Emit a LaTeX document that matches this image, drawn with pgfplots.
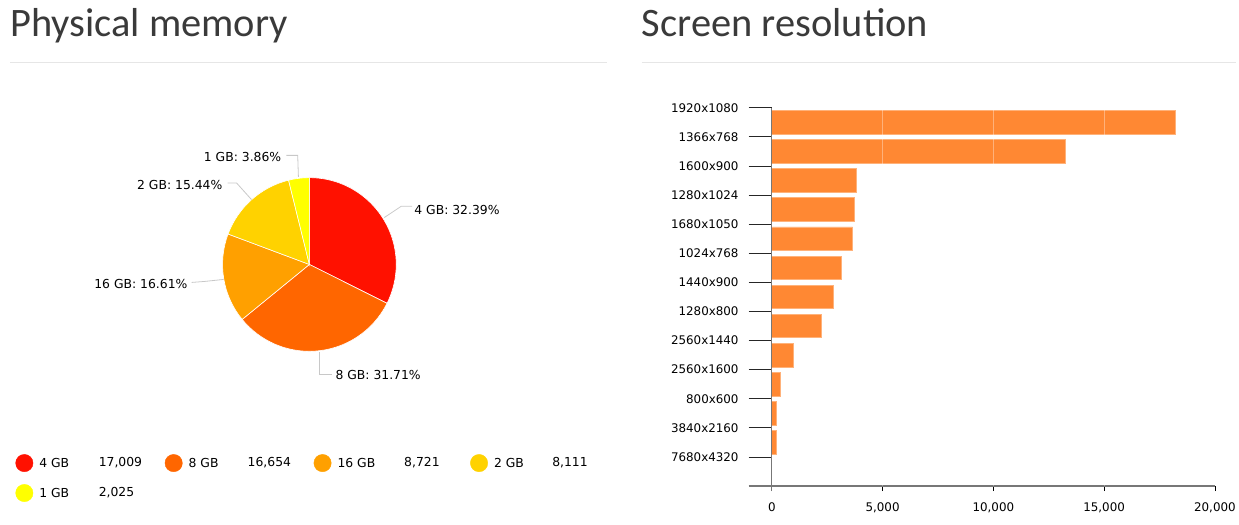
\documentclass[border=0pt]{standalone}
\usepackage{pgfplots}
\usepackage{pgfplotstable}
\pgfplotsset{compat=1.18}
\usepackage{fontspec}
\setmainfont{DejaVu Sans}
\newfontfamily\titlefont{Carlito}
\definecolor{cA}{HTML}{FF1100}
\definecolor{cB}{HTML}{FF6600}
\definecolor{cC}{HTML}{FFA000}
\definecolor{cD}{HTML}{FFD200}
\definecolor{cE}{HTML}{FFFF00}
\definecolor{barfill}{HTML}{FF8833}
\definecolor{baredge}{HTML}{FFB27A}
\definecolor{leader}{HTML}{C8C8C8}
\definecolor{titlecol}{HTML}{3A3A3A}
\definecolor{sepcol}{HTML}{E6E6E6}
\definecolor{axgray}{HTML}{777777}

% Physical memory (count per size)
\pgfplotstableread{
name value
4 17009
8 16654
16 8721
2 8111
1 2025
}\memtable

% Screen resolution (position, count)
\pgfplotstableread{
pos value
12.5 18230
11.5 13270
10.5 3800
9.5 3710
8.5 3650
7.5 3150
6.5 2770
5.5 2220
4.5 980
3.5 390
2.5 210
1.5 200
0.5 0
}\restable

\pgfplotstablegetelem{0}{value}\of\memtable \let\vA\pgfplotsretval
\pgfplotstablegetelem{1}{value}\of\memtable \let\vB\pgfplotsretval
\pgfplotstablegetelem{2}{value}\of\memtable \let\vC\pgfplotsretval
\pgfplotstablegetelem{3}{value}\of\memtable \let\vD\pgfplotsretval
\pgfplotstablegetelem{4}{value}\of\memtable \let\vE\pgfplotsretval
\edef\tot{\fpeval{\vA+\vB+\vC+\vD+\vE}}
\edef\aA{90}
\edef\aB{\fpeval{\aA-360*(\vA)/(\tot)}}
\edef\aC{\fpeval{\aB-360*(\vB)/(\tot)}}
\edef\aD{\fpeval{\aC-360*(\vC)/(\tot)}}
\edef\aE{\fpeval{\aD-360*(\vD)/(\tot)}}
\edef\aF{\fpeval{\aE-360*(\vE)/(\tot)}}
\edef\pA{\fpeval{round(100*(\vA)/(\tot),2)}}
\edef\pB{\fpeval{round(100*(\vB)/(\tot),2)}}
\edef\pC{\fpeval{round(100*(\vC)/(\tot),2)}}
\edef\pD{\fpeval{round(100*(\vD)/(\tot),2)}}
\edef\pE{\fpeval{round(100*(\vE)/(\tot),2)}}

\newcommand\slice[3]{\fill[#3, draw=white, line width=0.6pt] (axis cs:310,261) -- ++(#1:87pt) arc[start angle=#1, end angle=#2, radius=87pt] -- cycle;}
\newcommand\lbl{\fontsize{11.9}{14}\selectfont}
\newcommand\plbl{\fontsize{12.4}{14}\selectfont}

\begin{document}
\begin{tikzpicture}
% ---------- main canvas axis (1 unit = 1 px) ----------
\begin{axis}[name=main, at={(0pt,0pt)}, anchor=south west,
  x=1pt, y=1pt, xmin=0, xmax=1239, ymin=0, ymax=526,
  hide axis, clip=false]
  \path (axis cs:0,0) (axis cs:1239,526);
  % titles
  \node[anchor=base west, inner sep=0, text=titlecol, font=\titlefont\fontsize{40.5}{48}\selectfont] at (axis cs:10,489) {Physical memory};
  \node[anchor=base west, inner sep=0, text=titlecol, font=\titlefont\fontsize{40.5}{48}\selectfont] at (axis cs:643,489) {Screen resolution};
  \draw[sepcol, line width=1pt] (axis cs:10,463) -- (axis cs:608,463);
  \draw[sepcol, line width=1pt] (axis cs:643,463) -- (axis cs:1238,463);
  % pie
  \slice{\aA}{\aB}{cA}
  \slice{\aB}{\aC}{cB}
  \slice{\aC}{\aD}{cC}
  \slice{\aD}{\aE}{cD}
  \slice{\aE}{\aF}{cE}
  % leader lines
  \draw[leader, line width=0.8pt] (axis cs:385,308) -- (axis cs:402,319.3) -- (axis cs:413,319.3);
  \draw[leader, line width=0.8pt] (axis cs:320,173) -- (axis cs:320,151) -- (axis cs:333,151);
  \draw[leader, line width=0.8pt] (axis cs:224,246) -- (axis cs:205,244) -- (axis cs:192,243);
  \draw[leader, line width=0.8pt] (axis cs:252,326) -- (axis cs:237,342.7) -- (axis cs:228,342.7);
  \draw[leader, line width=0.8pt] (axis cs:299,348.7) -- (axis cs:298.3,370.3) -- (axis cs:287,370.3);
  % pie labels
  \node[anchor=west, inner sep=0, font=\plbl] at (axis cs:415,316) {4 GB: \pA\%};
  \node[anchor=west, inner sep=0, font=\plbl] at (axis cs:336,150) {8 GB: \pB\%};
  \node[anchor=east, inner sep=0, font=\plbl] at (axis cs:188,241) {16 GB: \pC\%};
  \node[anchor=east, inner sep=0, font=\plbl] at (axis cs:223,340.3) {2 GB: \pD\%};
  \node[anchor=east, inner sep=0, font=\plbl] at (axis cs:282,368.7) {1 GB: \pE\%};
  % legend
  \addplot[only marks, mark=*, mark size=8.7pt, color=cA] coordinates {(24.4,62)};
  \addplot[only marks, mark=*, mark size=8.7pt, color=cB] coordinates {(174,62)};
  \addplot[only marks, mark=*, mark size=8.7pt, color=cC] coordinates {(323.2,62)};
  \addplot[only marks, mark=*, mark size=8.7pt, color=cD] coordinates {(480,62)};
  \addplot[only marks, mark=*, mark size=8.7pt, color=cE] coordinates {(24.4,32)};
  \node[anchor=west, inner sep=0, font=\plbl] at (axis cs:39.2,62) {4 GB};
  \node[anchor=west, inner sep=0, font=\plbl] at (axis cs:98.8,62) {17,009};
  \node[anchor=west, inner sep=0, font=\plbl] at (axis cs:188.8,62) {8 GB};
  \node[anchor=west, inner sep=0, font=\plbl] at (axis cs:248,62) {16,654};
  \node[anchor=west, inner sep=0, font=\plbl] at (axis cs:338,62) {16 GB};
  \node[anchor=west, inner sep=0, font=\plbl] at (axis cs:404.8,62) {8,721};
  \node[anchor=west, inner sep=0, font=\plbl] at (axis cs:494.8,62) {2 GB};
  \node[anchor=west, inner sep=0, font=\plbl] at (axis cs:553.2,62) {8,111};
  \node[anchor=west, inner sep=0, font=\plbl] at (axis cs:39.2,32) {1 GB};
  \node[anchor=west, inner sep=0, font=\plbl] at (axis cs:98.8,32) {2,025};
\end{axis}

% ---------- y tick marks (short segments left of the bars) ----------
\begin{axis}[at={(750pt,39pt)}, anchor=south west,
  width=23.3pt, height=379pt, scale only axis,
  xmin=0, xmax=1, ymin=0, ymax=13,
  xtick=\empty, ytick={1,...,13}, yticklabels={},
  ymajorgrids, grid style={draw=black!85, line width=0.8pt},
  axis line style={draw=none}, tick style={draw=none}]
\end{axis}

% ---------- bar chart ----------
\begin{axis}[at={(750pt,39pt)}, anchor=south west,
  width=467.3pt, height=379pt, scale only axis,
  xmin=-1050, xmax=20000, ymin=0, ymax=13,
  scaled x ticks=false,
  axis x line=bottom, axis y line=left,
  x axis line style={-, draw=axgray, line width=1.2pt},
  y axis line style={draw=none},
  xtick={0,5000,10000,15000,20000},
  xticklabels={0,{5,000},{10,000},{15,000},{20,000}},
  xtick align=outside, major tick length=5pt,
  xtick style={draw=black, line width=0.8pt},
  ytick={1,...,13},
  yticklabels={7680x4320,3840x2160,800x600,2560x1600,2560x1440,1280x800,1440x900,1024x768,1680x1050,1280x1024,1600x900,1366x768,1920x1080},
  ytick style={draw=none},
  tick label style={font=\lbl, text=black},
  xticklabel style={yshift=-8.5pt},
  yticklabel style={xshift=-4pt},
  clip=false]
  \addplot[xbar, bar width=0.81, fill=barfill, draw=baredge, line width=0.7pt] table[x=value, y=pos] {\restable};
  \pgfplotsinvokeforeach{5000,10000,15000}{
    \draw[white, opacity=0.35, line width=0.8pt] (axis cs:#1,0) -- (axis cs:#1,13);
  }
  \draw[axgray, line width=1.2pt] (axis cs:0,-0.17) -- (axis cs:0,13);
\end{axis}
\end{tikzpicture}
\end{document}
